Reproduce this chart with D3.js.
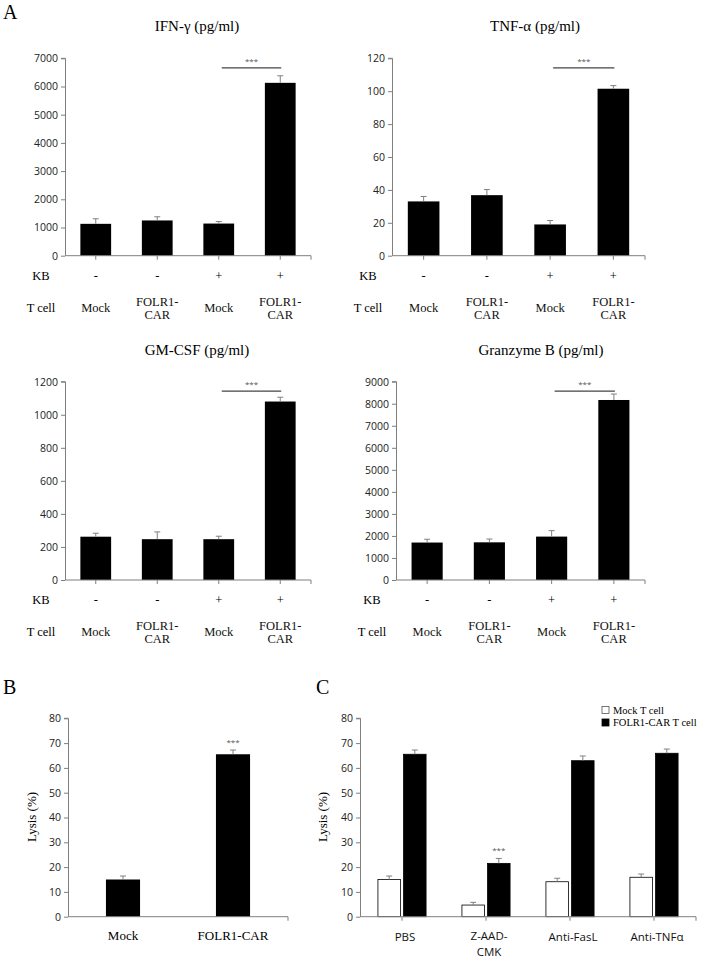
<!DOCTYPE html>
<html><head><meta charset="utf-8">
<script src="https://cdn.jsdelivr.net/npm/d3@7"></script>
<style>body{margin:0;background:#fff}svg{display:block}</style>
</head><body>
<svg id="c" width="701" height="960"></svg>
<script>
// ---------- data ----------
const tCellLabels = ["Mock", "FOLR1-\nCAR", "Mock", "FOLR1-\nCAR"];
const kbLabels = ["-", "-", "+", "+"];
const ifnValues = [1130, 1250, 1140, 6130];
const ifnErrors = [180, 130, 70, 250];
const tnfValues = [33, 36.8, 19, 101.5];
const tnfErrors = [3, 3.4, 2.4, 1.9];
const gmcsfValues = [262, 247, 247, 1080];
const gmcsfErrors = [21, 44, 18, 26];
const gzmbValues = [1700, 1710, 1970, 8170];
const gzmbErrors = [150, 150, 270, 270];
const ifnTicks = [0, 1000, 2000, 3000, 4000, 5000, 6000, 7000];
const tnfTicks = [0, 20, 40, 60, 80, 100, 120];
const gmcsfTicks = [0, 200, 400, 600, 800, 1000, 1200];
const gzmbTicks = [0, 1000, 2000, 3000, 4000, 5000, 6000, 7000, 8000, 9000];

const lysisBCategories = ["Mock", "FOLR1-CAR"];
const lysisBValues = [15, 65.5];
const lysisBErrors = [1.4, 1.7];

const lysisCGroups = ["PBS", "Z-AAD-\nCMK", "Anti-FasL", "Anti-TNFα"];
const lysisCSeries = ["Mock T cell", "FOLR1-CAR T cell"];
const lysisCMock = [15, 4.7, 14.1, 15.9];
const lysisCMockErr = [1.4, 1.1, 1.4, 1.3];
const lysisCCar = [65.5, 21.5, 62.9, 65.9];
const lysisCCarErr = [1.7, 2.0, 1.9, 1.7];
const lysisTicks = [0, 10, 20, 30, 40, 50, 60, 70, 80];

// ---------- styles ----------
const SERIF = "'Liberation Serif','Times New Roman',serif";
const SANS = "'Open Sans','DejaVu Sans',sans-serif";
const AXIS = "#7f7f7f";
const ERR = "#808080";
const svg = d3.select("#c");

function yAxis(g, y, ticks, x0) {
  const ax = g.append("g").attr("transform", `translate(${x0},0)`)
    .call(d3.axisLeft(y).tickValues(ticks).tickFormat(d3.format("d")).tickSize(4).tickPadding(3));
  ax.select(".domain").attr("stroke", AXIS).attr("d", `M-4,${y(ticks[ticks.length-1])}H0.5V${y(0)}`);
  ax.selectAll(".tick line").attr("stroke", AXIS);
  ax.selectAll(".tick text").attr("font-family", SANS).attr("font-size", 10.5).attr("fill", "#222");
}

function xBase(g, x0, x1, yb, centers) {
  g.append("line").attr("x1", x0).attr("x2", x1).attr("y1", yb).attr("y2", yb).attr("stroke", AXIS);
  centers.concat([x1]).forEach(c => g.append("line").attr("x1", c).attr("x2", c)
    .attr("y1", yb).attr("y2", yb + 4).attr("stroke", AXIS));
}

function errBar(g, cx, yTop, yErr) {
  g.append("line").attr("x1", cx).attr("x2", cx).attr("y1", yTop).attr("y2", yErr).attr("stroke", ERR);
  g.append("line").attr("x1", cx - 3).attr("x2", cx + 3).attr("y1", yErr).attr("y2", yErr).attr("stroke", ERR);
}

function multiline(g, text, x, yc, size, family, lh) {
  const lines = text.split("\n");
  const t = g.append("text").attr("x", x).attr("text-anchor", "middle")
    .attr("font-family", family).attr("font-size", size).attr("fill", "#111");
  lines.forEach((l, i) => t.append("tspan").attr("x", x)
    .attr("y", yc + (i - (lines.length - 1) / 2) * lh).attr("dy", "0.35em").text(l));
}

function panelA(opts) {
  const {title, values, errors, ticks, x0, x1, yTop, yBot, titleX} = opts;
  const g = svg.append("g");
  const y = d3.scaleLinear().domain([0, ticks[ticks.length-1]]).range([yBot, yTop]);
  const x = d3.scaleBand().domain(d3.range(values.length)).range([x0, x1]).paddingInner(0.5).paddingOuter(0.25);
  const centers = values.map((_, i) => x(i) + x.bandwidth() / 2);
  g.selectAll("rect").data(values).join("rect")
    .attr("x", (d, i) => x(i)).attr("width", x.bandwidth())
    .attr("y", d => y(d)).attr("height", d => y(0) - y(d)).attr("fill", "#000");
  values.forEach((v, i) => errBar(g, centers[i], y(v), y(v + errors[i])));
  yAxis(g, y, ticks, x0);
  xBase(g, x0, x1, yBot, centers);
  // title
  g.append("text").attr("x", titleX).attr("y", yTop - 27).attr("text-anchor", "middle")
    .attr("font-family", SERIF).attr("font-size", 15).text(title);
  // significance
  const sy = yTop + 9.5;
  g.append("line").attr("x1", centers[2] + 3).attr("x2", centers[3] + 1).attr("y1", sy).attr("y2", sy)
    .attr("stroke", "#444").attr("stroke-width", 1.2);
  g.append("text").attr("x", (centers[2] + centers[3]) / 2 + 2).attr("y", sy - 4).attr("text-anchor", "middle")
    .attr("font-family", SANS).attr("font-size", 8).attr("fill", "#555").text("***");
  // KB row and T cell row
  const labelX = x0 - 24;
  g.append("text").attr("x", labelX).attr("y", yBot + 20).attr("dy", "0.35em").attr("text-anchor", "middle")
    .attr("font-family", SERIF).attr("font-size", 12.5).text("KB");
  g.append("text").attr("x", labelX).attr("y", yBot + 52).attr("dy", "0.35em").attr("text-anchor", "middle")
    .attr("font-family", SERIF).attr("font-size", 12.5).text("T cell");
  kbLabels.forEach((k, i) => g.append("text").attr("x", centers[i]).attr("y", yBot + 20).attr("dy", "0.35em")
    .attr("text-anchor", "middle").attr("font-family", SERIF).attr("font-size", 12.5).text(k));
  tCellLabels.forEach((t, i) => multiline(g, t, centers[i], yBot + 52, 12.5, SERIF, 13));
}

panelA({title: "IFN-γ (pg/ml)", values: ifnValues, errors: ifnErrors, ticks: ifnTicks,
  x0: 65, x1: 311, yTop: 58.3, yBot: 255.7, titleX: 197});
panelA({title: "TNF-α (pg/ml)", values: tnfValues, errors: tnfErrors, ticks: tnfTicks,
  x0: 392, x1: 645, yTop: 58.3, yBot: 255.7, titleX: 535});
panelA({title: "GM-CSF (pg/ml)", values: gmcsfValues, errors: gmcsfErrors, ticks: gmcsfTicks,
  x0: 65, x1: 311, yTop: 381.7, yBot: 580, titleX: 197});
panelA({title: "Granzyme B (pg/ml)", values: gzmbValues, errors: gzmbErrors, ticks: gzmbTicks,
  x0: 396, x1: 645, yTop: 381.7, yBot: 580, titleX: 541});

// panel letters
[["A", 3, 19], ["B", 3, 694], ["C", 316, 694]].forEach(([t, x, yy]) =>
  svg.append("text").attr("x", x).attr("y", yy).attr("font-family", SERIF).attr("font-size", 20).text(t));

function lysisLabel(g, x, yc) {
  g.append("text").attr("transform", `translate(${x},${yc}) rotate(-90)`).attr("text-anchor", "middle")
    .attr("dy", "0.35em").attr("font-family", SERIF).attr("font-size", 13).text("Lysis (%)");
}

// ---------- panel B ----------
(function() {
  const g = svg.append("g");
  const x0 = 68, x1 = 288, yTop = 718.3, yBot = 916.7;
  const y = d3.scaleLinear().domain([0, 80]).range([yBot, yTop]);
  const x = d3.scaleBand().domain(lysisBCategories).range([x0, x1]).paddingInner(0.69).paddingOuter(0.345);
  const cx = c => x(c) + x.bandwidth() / 2;
  g.selectAll("rect").data(lysisBCategories).join("rect")
    .attr("x", c => x(c)).attr("width", x.bandwidth())
    .attr("y", (c, i) => y(lysisBValues[i])).attr("height", (c, i) => y(0) - y(lysisBValues[i])).attr("fill", "#000");
  lysisBCategories.forEach((c, i) => errBar(g, cx(c), y(lysisBValues[i]), y(lysisBValues[i] + lysisBErrors[i])));
  yAxis(g, y, lysisTicks, x0);
  xBase(g, x0, x1, yBot, []);
  g.append("text").attr("x", cx("FOLR1-CAR")).attr("y", y(lysisBValues[1] + lysisBErrors[1]) - 5)
    .attr("text-anchor", "middle").attr("font-family", SANS).attr("font-size", 8).attr("fill", "#555").text("***");
  lysisBCategories.forEach(c => g.append("text").attr("x", cx(c)).attr("y", 935).attr("dy", "0.35em")
    .attr("text-anchor", "middle").attr("font-family", SERIF).attr("font-size", 13).text(c));
  lysisLabel(g, 31.5, 817);
})();

// ---------- panel C ----------
(function() {
  const g = svg.append("g");
  const x0 = 360, x1 = 696, yTop = 718.3, yBot = 916.7;
  const y = d3.scaleLinear().domain([0, 80]).range([yBot, yTop]);
  const x = d3.scaleBand().domain(d3.range(lysisCGroups.length)).range([x0, x1]).paddingInner(0.5).paddingOuter(0.25);
  const x1s = d3.scaleBand().domain(lysisCSeries).range([0, x.bandwidth()]).paddingInner(0.12).paddingOuter(-0.12);
  const series = [
    {name: lysisCSeries[0], v: lysisCMock, e: lysisCMockErr, fill: "#fff"},
    {name: lysisCSeries[1], v: lysisCCar, e: lysisCCarErr, fill: "#000"}
  ];
  const centers = lysisCGroups.map((_, i) => x(i) + x.bandwidth() / 2);
  series.forEach(s => {
    s.v.forEach((v, i) => {
      const bx = x(i) + x1s(s.name);
      g.append("rect").attr("x", bx).attr("width", x1s.bandwidth()).attr("y", y(v)).attr("height", y(0) - y(v))
        .attr("fill", s.fill).attr("stroke", "#000").attr("stroke-width", 0.8);
      errBar(g, bx + x1s.bandwidth() / 2, y(v), y(v + s.e[i]));
    });
  });
  yAxis(g, y, lysisTicks, x0);
  xBase(g, x0, x1, yBot, centers);
  const zx = x(1) + x1s(lysisCSeries[1]) + x1s.bandwidth() / 2;
  g.append("text").attr("x", zx).attr("y", y(lysisCCar[1] + lysisCCarErr[1]) - 5)
    .attr("text-anchor", "middle").attr("font-family", SANS).attr("font-size", 8).attr("fill", "#555").text("***");
  lysisCGroups.forEach((t, i) => multiline(g, t, centers[i] + 3, t.includes("\n") ? 944 : 936.5, 11.5, SANS, 16.5));
  lysisLabel(g, 322, 817);
  // legend
  series.forEach((s, i) => {
    const ly = 710 + i * 12.5;
    g.append("rect").attr("x", 602).attr("y", ly - 3.5).attr("width", 7).attr("height", 7)
      .attr("fill", s.fill).attr("stroke", s.fill === "#fff" ? "#555" : "#000").attr("stroke-width", 0.8);
    g.append("text").attr("x", 613).attr("y", ly).attr("dy", "0.35em").attr("font-family", SERIF)
      .attr("font-size", 10.5).text(s.name);
  });
})();
</script>
</body></html>
